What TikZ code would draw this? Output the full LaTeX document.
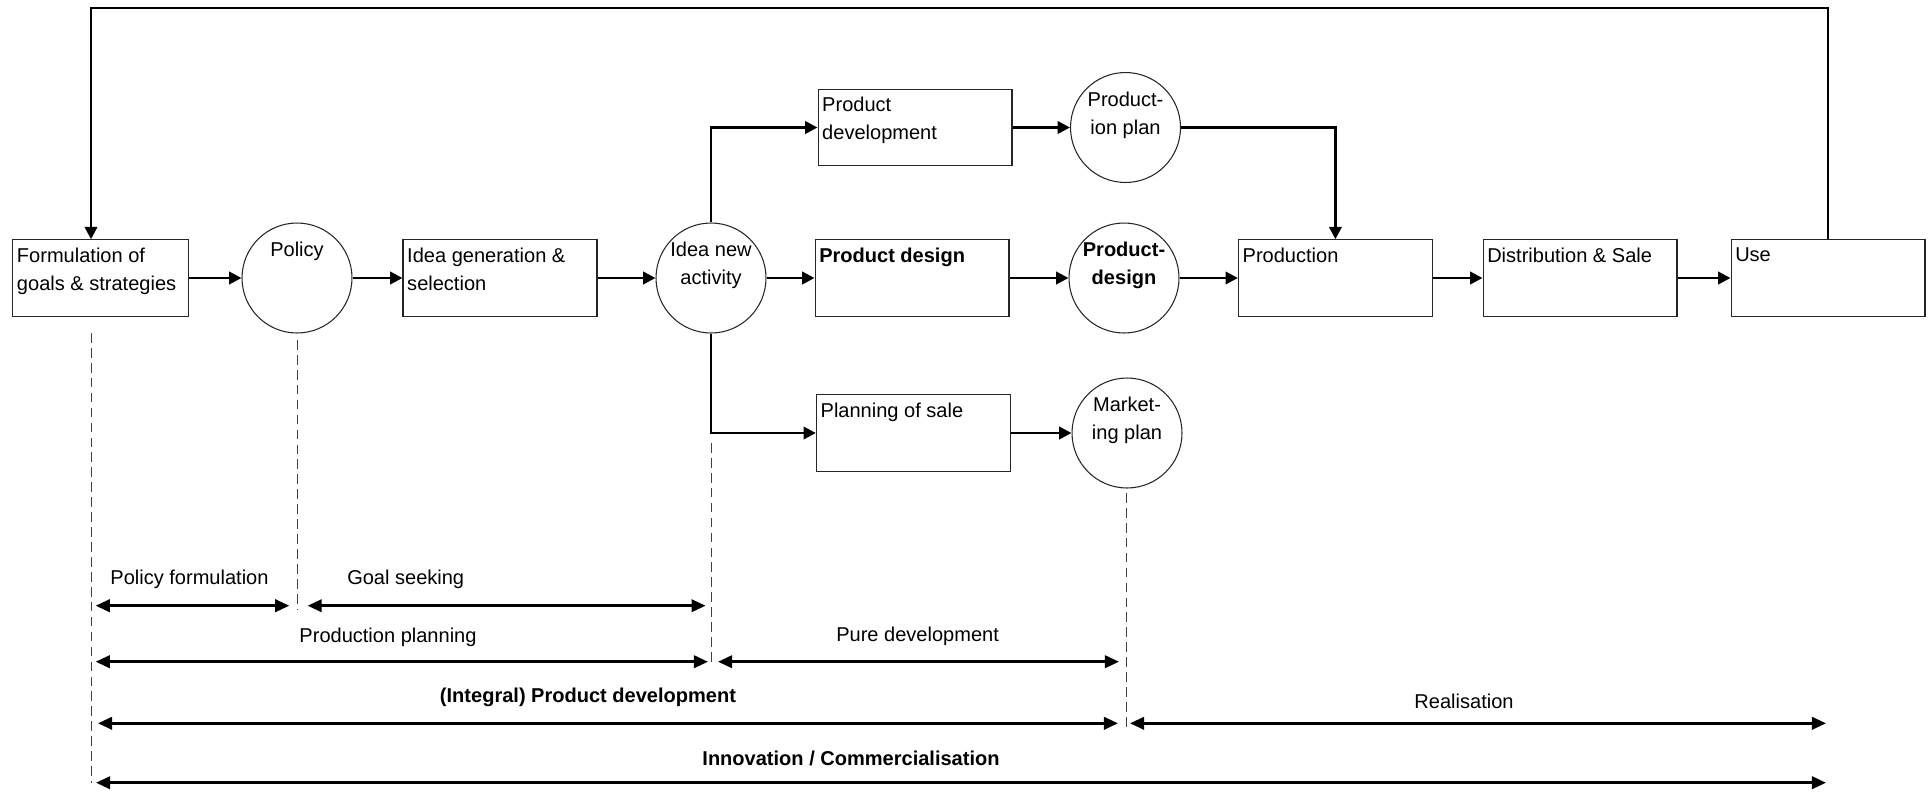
\documentclass[tikz,border=0pt]{standalone}
\usepackage{fontspec}
\setmainfont{Liberation Sans}
\usetikzlibrary{arrows.meta}

\newcommand{\diagfont}{\fontsize{11.4}{16}\selectfont}

\tikzset{
  box/.style={draw=black!85, line width=0.6pt, minimum width=3.88cm, minimum height=1.53cm, inner sep=0pt},
  disc/.style={circle, draw=black!85, line width=0.6pt, minimum size=2.2cm, inner sep=0pt},
  boxtext/.style={anchor=north west, align=left, inner xsep=2.5pt, inner ysep=4.5pt},
  disctext/.style={anchor=north, align=center, inner sep=0pt, yshift=-11pt},
  strong/.style={font=\diagfont\bfseries},
  conn/.style={line width=1.5pt, -{Triangle[length=7pt,width=7pt]}},
  span/.style={line width=1.6pt, {Triangle[length=8pt,width=7pt]}-{Triangle[length=8pt,width=7pt]}},
  guide/.style={black!75, line width=0.45pt, dash pattern=on 5.5pt off 3pt},
  spantext/.style={inner sep=0pt}
}

\begin{document}
\begin{tikzpicture}[x=0.02cm, y=-0.02cm, font=\diagfont]
  \useasboundingbox (0,0) rectangle (1932,792);
  % Main row
  \node[box, minimum width=3.51cm, label={[boxtext]north west:{Formulation of\\goals \& strategies}}] (goals) at (100.5,278) {};
  \node[disc, label={[disctext]north:Policy}] (policy) at (297,278) {};
  \node[box, label={[boxtext]north west:{Idea generation \&\\selection}}] (ideagen) at (500,278) {};
  \node[disc, label={[disctext]north:{Idea new\\activity}}] (ideanew) at (711,278) {};
  \node[box, label={[boxtext, strong]north west:Product design}] (design) at (912,278) {};
  \node[disc, label={[disctext, strong]north:{Product-\\design}}] (designdoc) at (1124,278) {};
  \node[box, label={[boxtext]north west:Production}] (production) at (1335.4,278) {};
  \node[box, label={[boxtext]north west:{Distribution \& Sale}}] (distribution) at (1580,278) {};
  \node[box, label={[boxtext]north west:Use}] (use) at (1828,278) {};
  % Upper and lower branch
  \node[box, label={[boxtext]north west:{Product\\development}}] (proddev) at (915,127.5) {};
  \node[disc, label={[disctext]north:{Product-\\ion plan}}] (prodplan) at (1125.5,127.5) {};
  \node[box, label={[boxtext]north west:{Planning of sale}}] (saleplan) at (913.4,433) {};
  \node[disc, label={[disctext]north:{Market-\\ing plan}}] (mktplan) at (1127,433) {};
  % Flow
  \draw[conn] (goals) -- (policy);
  \draw[conn] (policy) -- (ideagen);
  \draw[conn] (ideagen) -- (ideanew);
  \draw[conn] (ideanew) -- (design);
  \draw[conn] (design) -- (designdoc);
  \draw[conn] (designdoc) -- (production);
  \draw[conn] (production) -- (distribution);
  \draw[conn] (distribution) -- (use);
  \draw[conn] (ideanew.north) |- (proddev.west);
  \draw[conn] (ideanew.south) |- (saleplan.west);
  \draw[conn] (proddev) -- (prodplan);
  \draw[conn] (saleplan) -- (mktplan);
  \draw[conn] (prodplan.east) -| (production.north);
  % Feedback loop
  \coordinate (fb) at (91,8);
  \draw[conn] (use.north) |- (fb) -- (fb |- goals.north);
  % Phase guides
  \draw[guide] (91,333) -- (91,783);
  \draw[guide] (297,340) -- (297,610);
  \draw[guide] (711,443) -- (711,667);
  \draw[guide] (1126.6,493) -- (1126.6,727);
  % Phase spans
  \draw[span] (95.7,605.7) -- (289.3,605.7);
  \draw[span] (307.6,605.7) -- (705.6,605.7);
  \draw[span] (95.7,661.7) -- (708,661.7);
  \draw[span] (718,661.7) -- (1119,661.7);
  \draw[span] (98,723.3) -- (1118,723.3);
  \draw[span] (1130,723.3) -- (1826,723.3);
  \draw[span] (96,782.7) -- (1826,782.7);
  \node[spantext] (policyform) at (189.5,579) {Policy formulation};
  \node[spantext] (goalseek) at (405.7,579) {Goal seeking};
  \node[spantext] (prodplanning) at (388,637) {Production planning};
  \node[spantext] (puredev) at (917.6,636) {Pure development};
  \node[spantext, strong] (integral) at (588,697) {(Integral) Product development};
  \node[spantext] (realis) at (1464,701) {Realisation};
  \node[spantext, strong] (innov) at (851,758) {Innovation / Commercialisation};
\end{tikzpicture}
\end{document}
